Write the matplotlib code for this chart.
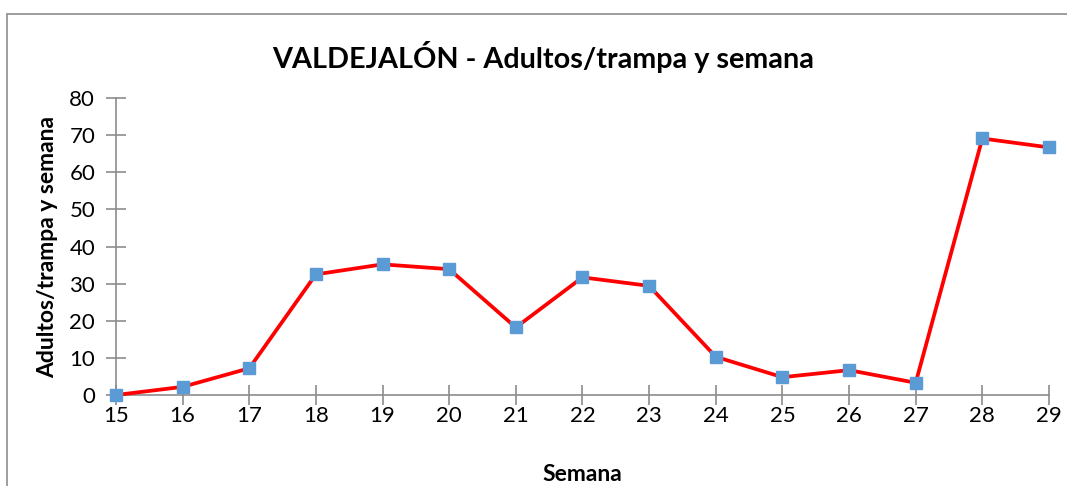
import matplotlib.pyplot as plt
from matplotlib.patches import Rectangle

semanas = [15, 16, 17, 18, 19, 20, 21, 22, 23, 24, 25, 26, 27, 28, 29]
adultos = [0, 2.2, 7.2, 32.5, 35.2, 33.9, 18.2, 31.7, 29.4, 10.3, 4.8, 6.7, 3.3, 69.1, 66.7]
y_ticks = [0, 10, 20, 30, 40, 50, 60, 70, 80]

plt.rcParams['font.family'] = ['Lato', 'DejaVu Sans']

fig = plt.figure(figsize=(10.67, 4.86), dpi=100)
ax = fig.add_axes([0.1087, 0.1872, 0.8744, 0.6111])

# marco exterior del grafico
fig.patches.append(Rectangle((7 / 1067, -0.05), 1.2, 1 - 14 / 486 + 0.05,
                             transform=fig.transFigure, fill=False,
                             edgecolor='#8c8c8c', linewidth=1.2))

ax.plot(semanas, adultos, color='#ff0000', linewidth=2.7, marker='s',
        markersize=8.5, markerfacecolor='#5b9bd5', markeredgecolor='#5b9bd5',
        clip_on=False, zorder=3)

ax.set_xlim(15, 29)
ax.set_ylim(0, 80)
ax.set_xticks(semanas)
ax.set_yticks(y_ticks)
ax.tick_params(axis='both', direction='inout', length=14, width=1.2,
               color='#8c8c8c', labelsize=16)
ax.tick_params(axis='x', pad=1)
ax.tick_params(axis='y', pad=8)
for s in ['top', 'right']:
    ax.spines[s].set_visible(False)
for s in ['left', 'bottom']:
    ax.spines[s].set_color('#8c8c8c')
    ax.spines[s].set_linewidth(1.2)

fig.text(0.509, 0.883, 'VALDEJALÓN - Adultos/trampa y semana', ha='center',
         va='center', fontsize=20.7, fontweight='bold')
ax.set_xlabel('Semana', fontsize=16.5, fontweight='bold', labelpad=27)
ax.set_ylabel('Adultos/trampa y semana', fontsize=16.5, fontweight='bold', labelpad=8)

fig.savefig('out.png', dpi=100)
